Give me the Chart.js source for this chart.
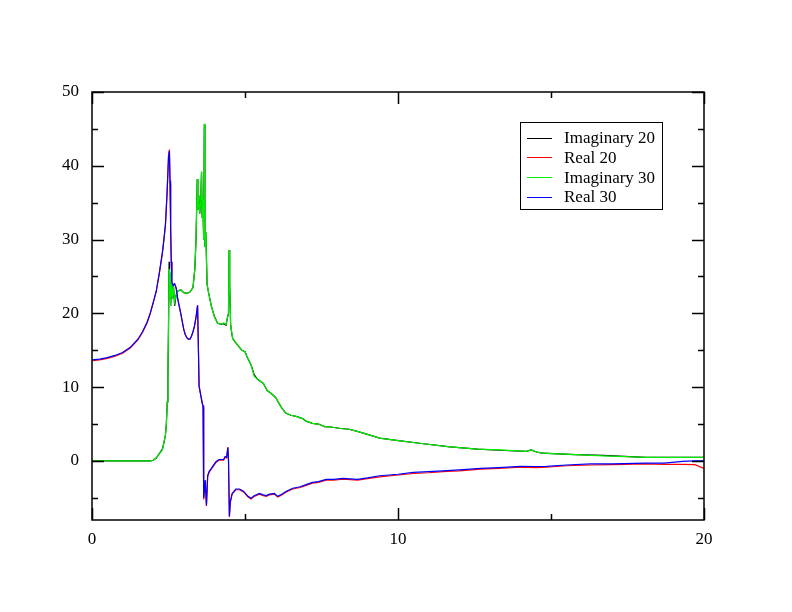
<!DOCTYPE html>
<html lang="en">
<head>
    <meta charset="UTF-8">
    <title>Imaginary / Real</title>
    <script src="https://cdn.jsdelivr.net/npm/chart.js"></script>
    <style>
        html, body { margin: 0; padding: 0; background: #ffffff; }
        #wrap { width: 792px; height: 612px; }
    </style>
</head>
<body>
    <div id="wrap"><canvas id="spectrumChart" width="792" height="612"></canvas></div>

    <script>
        // x positions for the real parts
        const realX = [0, 0.25, 0.5, 0.75, 1.0, 1.25, 1.5, 1.65, 1.8, 1.9, 2.0, 2.1, 2.2, 2.3, 2.35, 2.4, 2.45, 2.48, 2.5, 2.53,
            2.55, 2.57, 2.59, 2.61, 2.65, 2.7, 2.75, 2.8, 2.9, 2.95, 3.0, 3.05, 3.1, 3.15, 3.2, 3.25, 3.3, 3.35, 3.4, 3.45,
            3.47, 3.5, 3.55, 3.6, 3.63, 3.64, 3.66, 3.7, 3.74, 3.78, 3.83, 3.9, 4.0, 4.05, 4.15, 4.3, 4.35, 4.4, 4.44, 4.46,
            4.49, 4.52, 4.58, 4.7, 4.82, 4.95, 5.1, 5.2, 5.3, 5.47, 5.6, 5.69, 5.8, 5.96, 6.07, 6.2, 6.35, 6.56, 6.8, 7.0,
            7.2, 7.4, 7.65, 7.9, 8.2, 8.68, 9.0, 9.4, 10.0, 10.5, 11.0, 11.6, 12.0, 12.7, 13.3, 14.0, 14.5, 14.85, 15.5, 16.3,
            17.0, 18.1, 18.7, 19.3, 19.7, 20.0];

        const real20 = [13.6, 13.7, 13.9, 14.2, 14.6, 15.3, 16.4, 17.4, 18.7, 19.9, 21.4, 23.0, 25.4, 28.2, 30.0, 32.0, 36.0, 39.0, 41.5, 42.2,
            37.5, 31.5, 27.0, 24.2, 23.8, 24.0, 23.4, 22.0, 20.0, 18.9, 17.8, 17.1, 16.7, 16.5, 16.5, 16.9, 17.5, 18.3, 19.5, 21.1,
            16.8, 10.2, 9.0, 8.0, 7.2, -4.6, -5.2, -2.7, -6.1, -2.1, -1.5, -1.1, -0.5, -0.2, 0.1, 0.1, 0.5, 0.4, 1.9, 0.2,
            -7.6, -5.6, -4.5, -3.9, -3.9, -4.2, -4.9, -5.15, -4.8, -4.5, -4.7, -4.8, -4.6, -4.5, -4.9, -4.6, -4.2, -3.8, -3.6, -3.3,
            -3.0, -2.9, -2.6, -2.6, -2.45, -2.6, -2.4, -2.15, -1.9, -1.7, -1.6, -1.4, -1.35, -1.1, -1.0, -0.85, -0.9, -0.85, -0.65, -0.55,
            -0.5, -0.4, -0.45, -0.45, -0.5, -1.0];

        const real30 = [13.7, 13.8, 14.0, 14.3, 14.7, 15.4, 16.5, 17.5, 18.8, 20.0, 21.5, 23.0, 25.5, 28.2, 30.0, 32.0, 36.0, 39.0, 41.0, 42.0,
            38.0, 32.0, 27.0, 24.2, 23.8, 24.0, 23.5, 22.0, 20.0, 18.9, 17.8, 17.1, 16.7, 16.5, 16.5, 16.9, 17.5, 18.3, 19.5, 21.1,
            16.8, 10.1, 9.0, 7.8, 7.5, -4.5, -5.0, -2.6, -6.0, -2.0, -1.4, -1.0, -0.4, -0.1, 0.2, 0.2, 0.6, 0.5, 1.8, 0.3,
            -7.5, -5.5, -4.4, -3.8, -3.8, -4.1, -4.8, -5.05, -4.7, -4.4, -4.6, -4.7, -4.5, -4.4, -4.8, -4.5, -4.1, -3.7, -3.5, -3.2,
            -2.9, -2.8, -2.5, -2.5, -2.35, -2.5, -2.3, -2.0, -1.8, -1.55, -1.45, -1.3, -1.2, -1.0, -0.9, -0.73, -0.75, -0.73, -0.55, -0.4,
            -0.4, -0.3, -0.3, -0.05, 0.0, 0.0];

        // x positions for the imaginary parts
        const imagX = [0, 1.9, 2.0, 2.1, 2.2, 2.3, 2.35, 2.4, 2.43, 2.46, 2.48, 2.5, 2.52, 2.53, 2.55, 2.57, 2.6, 2.63, 2.66, 2.7,
            2.75, 2.8, 2.9, 3.0, 3.1, 3.2, 3.3, 3.36, 3.4, 3.44, 3.46, 3.49, 3.52, 3.55, 3.58, 3.6, 3.62, 3.65, 3.67, 3.69,
            3.72, 3.76, 3.8, 3.9, 4.0, 4.1, 4.2, 4.3, 4.38, 4.43, 4.46, 4.48, 4.5, 4.53, 4.57, 4.6, 4.7, 4.8, 4.9, 5.0,
            5.07, 5.2, 5.3, 5.4, 5.5, 5.6, 5.73, 5.84, 6.0, 6.11, 6.2, 6.33, 6.5, 6.7, 6.9, 7.0, 7.2, 7.4, 7.6, 7.8,
            8.13, 8.4, 8.67, 9.0, 9.4, 9.95, 10.7, 11.7, 12.6, 13.3, 14.2, 14.35, 14.5, 14.7, 15.8, 16.7, 18.1, 20.0];

        const imag20 = [0.0, 0.0, 0.1, 0.4, 1.0, 1.6, 2.5, 3.5, 5.0, 8.0, 11.0, 18.0, 27.0, 22.0, 25.5, 21.0, 24.0, 22.0, 24.0, 21.0,
            22.5, 23.0, 23.2, 22.8, 22.7, 22.9, 23.5, 26.0, 30.0, 38.2, 34.0, 36.0, 33.5, 35.0, 39.2, 33.0, 35.5, 30.0, 45.6, 29.0,
            31.0, 24.0, 23.0, 21.0, 19.6, 18.7, 18.5, 18.6, 18.4, 19.5, 20.0, 28.6, 24.0, 18.5, 17.2, 16.6, 16.0, 15.5, 15.0, 14.8,
            14.1, 13.0, 11.7, 11.1, 10.8, 10.5, 9.5, 9.2, 8.6, 7.8, 7.2, 6.5, 6.2, 6.0, 5.7, 5.4, 5.1, 5.0, 4.65, 4.6,
            4.4, 4.3, 4.0, 3.6, 3.1, 2.8, 2.4, 1.9, 1.6, 1.45, 1.3, 1.5, 1.25, 1.05, 0.85, 0.75, 0.5, 0.5];

        const imag30 = [0.0, 0.0, 0.1, 0.4, 1.0, 1.5, 2.5, 3.5, 5.0, 8.0, 11.0, 18.0, 26.0, 22.0, 25.5, 21.0, 24.0, 22.0, 23.8, 21.5,
            22.5, 23.0, 23.2, 22.8, 22.7, 22.9, 23.5, 26.0, 30.0, 38.2, 34.0, 36.0, 33.5, 35.0, 39.2, 33.0, 35.5, 30.0, 45.7, 29.0,
            31.0, 24.0, 23.0, 21.0, 19.5, 18.7, 18.5, 18.7, 18.5, 19.5, 20.0, 28.6, 24.0, 18.5, 17.3, 16.5, 16.0, 15.5, 15.0, 14.8,
            14.1, 13.0, 11.5, 11.1, 10.8, 10.5, 9.5, 9.2, 8.6, 7.8, 7.2, 6.5, 6.2, 6.0, 5.7, 5.4, 5.1, 5.0, 4.65, 4.6,
            4.4, 4.3, 4.0, 3.6, 3.1, 2.8, 2.4, 1.9, 1.6, 1.5, 1.3, 1.5, 1.27, 1.05, 0.85, 0.7, 0.5, 0.5];

        // axis tick values
        const xMajorTicks = [0, 10, 20];
        const xMinorTicks = [5, 15];
        const yMajorTicks = [0, 10, 20, 30, 40, 50];
        const yMinorTicks = [-5, 5, 15, 25, 35, 45];

        const serif = '"Liberation Serif", "Times New Roman", serif';

        function pairs(xs, ys) {
            return xs.map((x, i) => ({ x: x, y: ys[i] }));
        }

        // frame, inward ticks and the boxed legend
        const framePlugin = {
            id: 'frame',
            afterDraw(chart) {
                const ctx = chart.ctx;
                const a = chart.chartArea;
                const xs = chart.scales.x;
                const ys = chart.scales.y;
                ctx.save();
                ctx.strokeStyle = '#000';
                ctx.lineWidth = 1.5;
                ctx.strokeRect(a.left, a.top, a.right - a.left, a.bottom - a.top);

                ctx.beginPath();
                const xTick = (v, len) => {
                    const px = Math.round(xs.getPixelForValue(v)) + 0.5;
                    ctx.moveTo(px, a.bottom); ctx.lineTo(px, a.bottom - len);
                    ctx.moveTo(px, a.top); ctx.lineTo(px, a.top + len);
                };
                const yTick = (v, len) => {
                    const py = Math.round(ys.getPixelForValue(v)) + 0.5;
                    ctx.moveTo(a.left, py); ctx.lineTo(a.left + len, py);
                    ctx.moveTo(a.right, py); ctx.lineTo(a.right - len, py);
                };
                xMajorTicks.forEach(v => xTick(v, 12));
                xMinorTicks.forEach(v => xTick(v, 6));
                yMajorTicks.forEach(v => yTick(v, 12));
                yMinorTicks.forEach(v => yTick(v, 6));
                ctx.stroke();

                // legend box
                const lx = 520, ly = 122, lw = 142, lh = 87;
                ctx.fillStyle = '#fff';
                ctx.fillRect(lx, ly, lw, lh);
                ctx.lineWidth = 1;
                ctx.strokeRect(lx + 0.5, ly + 0.5, lw, lh);
                ctx.font = '17px ' + serif;
                ctx.textBaseline = 'middle';
                const sets = chart.data.datasets;
                [0, 1, 2, 3].forEach(i => {
                    const y = 137.5 + i * 19.8;
                    ctx.strokeStyle = sets[i].borderColor;
                    ctx.beginPath();
                    ctx.moveTo(527, Math.round(y) + 0.5);
                    ctx.lineTo(552, Math.round(y) + 0.5);
                    ctx.stroke();
                    ctx.fillStyle = '#000';
                    ctx.fillText(sets[i].label, 564, y + 1);
                });
                ctx.restore();
            }
        };

        const ctx = document.getElementById('spectrumChart').getContext('2d');
        const spectrumChart = new Chart(ctx, {
            type: 'line',
            data: {
                datasets: [
                    { label: 'Imaginary 20', data: pairs(imagX, imag20), borderColor: '#000000', order: 4 },
                    { label: 'Real 20', data: pairs(realX, real20), borderColor: '#ff0000', order: 3 },
                    { label: 'Imaginary 30', data: pairs(imagX, imag30), borderColor: '#00ee00', order: 2 },
                    { label: 'Real 30', data: pairs(realX, real30), borderColor: '#0000ff', order: 1 }
                ]
            },
            options: {
                responsive: false,
                animation: false,
                elements: {
                    point: { radius: 0 },
                    line: { borderWidth: 1.2, tension: 0, fill: false }
                },
                layout: { padding: { top: 92, right: 88, left: 0, bottom: 0 } },
                plugins: {
                    legend: { display: false },
                    tooltip: { enabled: false }
                },
                scales: {
                    x: {
                        type: 'linear',
                        min: 0,
                        max: 20,
                        grid: { display: false },
                        border: { display: false },
                        afterBuildTicks: s => { s.ticks = xMajorTicks.map(v => ({ value: v })); },
                        afterFit: s => { s.height = 92; },
                        ticks: { color: '#000', padding: 1, maxRotation: 0, font: { family: serif, size: 17 } }
                    },
                    y: {
                        type: 'linear',
                        min: -8,
                        max: 50,
                        grid: { display: false },
                        border: { display: false },
                        afterBuildTicks: s => { s.ticks = yMajorTicks.map(v => ({ value: v })); },
                        afterFit: s => { s.width = 92; },
                        ticks: { color: '#000', padding: 5, font: { family: serif, size: 17 } }
                    }
                }
            },
            plugins: [framePlugin]
        });
    </script>
</body>
</html>
